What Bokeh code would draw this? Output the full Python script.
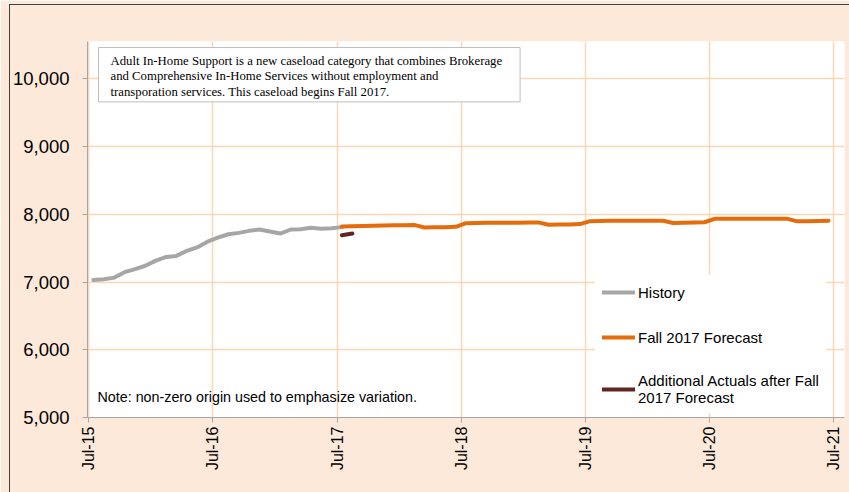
import math
from datetime import datetime
import pandas as pd
from bokeh.plotting import figure
from bokeh.models import (Range1d, FixedTicker, NumeralTickFormatter, Legend,
                          LegendItem, Label, ColumnDataSource, InlineStyleSheet)
from bokeh.embed import file_html
from bokeh.resources import INLINE

# ---------------- data ----------------
history_start = "2015-07-01"
history_values = [7030, 7040, 7065, 7145, 7190, 7240, 7315, 7370, 7385, 7460,
                  7510, 7595, 7655, 7705, 7725, 7755, 7775, 7745, 7715, 7775,
                  7780, 7800, 7785, 7795, 7810]

forecast_start = "2017-07-01"
forecast_values = [7818, 7822, 7826, 7830, 7833, 7836, 7838, 7840,
                   7805, 7808, 7810, 7815,
                   7868, 7872, 7873, 7874, 7875, 7876, 7877, 7877,
                   7845, 7848, 7850, 7855,
                   7898, 7902, 7903, 7903, 7904, 7904, 7904, 7904,
                   7872, 7874, 7878, 7882,
                   7932, 7934, 7933, 7934, 7934, 7934, 7934, 7932,
                   7895, 7898, 7901, 7905]

actuals_start = "2017-07-01"
actuals_values = [7690, 7715]

series_names = ["History", "Fall 2017 Forecast",
                "Additional Actuals after Fall\n2017 Forecast"]
series_colors = ["#A6A6A6", "#E46C0A", "#632523"]

y_ticks = [5000, 6000, 7000, 8000, 9000, 10000]
x_tick_dates = ["2015-07-01", "2016-07-01", "2017-07-01", "2018-07-01",
                "2019-07-01", "2020-07-01", "2021-07-01"]
x_tick_labels = ["Jul-15", "Jul-16", "Jul-17", "Jul-18", "Jul-19", "Jul-20", "Jul-21"]

note_text = "Note: non-zero origin used to emphasize variation."
box_text = ("Adult In-Home Support is a new caseload category that combines Brokerage\n"
            "and Comprehensive In-Home Services without employment and\n"
            "transporation services. This caseload begins Fall 2017.")


def monthly(start, vals):
    d = pd.date_range(start, periods=len(vals), freq="MS") + pd.Timedelta(days=14)
    return ColumnDataSource(data=dict(date=d, v=vals))


# ---------------- geometry ----------------
W, H = 849, 492
X0 = datetime(2015, 6, 28)
X1 = datetime(2021, 8, 1)
Y0, Y1 = 5000, 10550
FL, FR, FT, FB = 87, 844, 41, 417  # frame edges in page pixels

x0_ms = pd.Timestamp(X0).value / 1e6
x1_ms = pd.Timestamp(X1).value / 1e6


def px_to_x(px):
    return x0_ms + (px - FL) / (FR - FL) * (x1_ms - x0_ms)


def px_to_y(py):
    return Y1 - (py - FT) / (FB - FT) * (Y1 - Y0)


p = figure(width=W, height=H, x_axis_type="datetime",
           x_range=Range1d(X0, X1), y_range=Range1d(Y0, Y1),
           output_backend="svg", toolbar_location=None,
           min_border_left=FL, min_border_right=W - FR,
           min_border_top=FT, min_border_bottom=H - FB,
           background_fill_color="white", border_fill_color="#FDE9D9",
           outline_line_color=None)

# outer chart frame line (top and left edges visible), drawn via CSS overlay
p.stylesheets = [InlineStyleSheet(css="""
:host::after {
  content: "";
  position: absolute;
  left: 9px; top: 4px; width: 900px; height: 600px;
  border-top: 1.5px solid #404040;
  border-left: 1.5px solid #404040;
  pointer-events: none;
  z-index: 10;
}
""")]

# axes
tick_ms = [pd.Timestamp(d).value // 10**6 for d in x_tick_dates]
p.xaxis.ticker = FixedTicker(ticks=tick_ms)
p.xaxis.major_label_overrides = {t: lab for t, lab in zip(tick_ms, x_tick_labels)}
p.xaxis.major_label_orientation = math.pi / 2
p.yaxis.ticker = FixedTicker(ticks=y_ticks)
p.yaxis.formatter = NumeralTickFormatter(format="0,0")

for ax in (p.xaxis, p.yaxis):
    ax.axis_line_color = "#A6A6A6"
    ax.axis_line_width = 1
    ax.major_tick_line_color = "#A6A6A6"
    ax.major_tick_out = 5
    ax.major_tick_in = 0
    ax.minor_tick_line_color = None
    ax.major_label_text_font = "Liberation Sans"
    ax.major_label_text_color = "black"
p.yaxis.major_label_text_font_size = "18.5px"
p.yaxis.major_label_standoff = 13
p.xaxis.major_label_text_font_size = "16px"
p.xaxis.major_label_standoff = 4

p.xgrid.ticker = FixedTicker(ticks=tick_ms)
p.ygrid.ticker = FixedTicker(ticks=y_ticks)
for g in (p.xgrid, p.ygrid):
    g.grid_line_color = "#FCD5B5"
    g.grid_line_width = 1.5

# lines
srcs = [monthly(history_start, history_values),
        monthly(forecast_start, forecast_values),
        monthly(actuals_start, actuals_values)]
renderers = []
for s, c in zip(srcs, series_colors):
    r = p.line("date", "v", source=s, line_color=c, line_width=4,
               line_cap="round", line_join="round")
    renderers.append(r)

legend = Legend(items=[LegendItem(label=n, renderers=[r])
                       for n, r in zip(series_names, renderers)],
                location=(508, 4), margin=0, padding=7,
                border_line_alpha=0, background_fill_color="white",
                background_fill_alpha=1,
                label_text_font="Liberation Sans", label_text_font_size="15px",
                label_text_color="black",
                glyph_width=33, glyph_height=20, label_height=20,
                label_standoff=3, spacing=25)
p.add_layout(legend)

p.add_layout(Label(x=px_to_x(97), y=px_to_y(396), text=note_text,
                   text_font="Liberation Sans", text_font_size="14.3px",
                   text_baseline="middle", text_align="left",
                   text_color="black"))

p.add_layout(Label(x=px_to_x(98), y=px_to_y(47), text=box_text,
                   text_font="Liberation Serif", text_font_size="12.75px",
                   text_line_height=1.12,
                   text_baseline="top", text_align="left", text_color="black",
                   background_fill_color="white", border_line_color="#BFBFBF",
                   border_line_width=1,
                   padding=dict(left=12, right=18, top=6, bottom=3)))

open("out.html", "w").write(file_html(p, INLINE))
